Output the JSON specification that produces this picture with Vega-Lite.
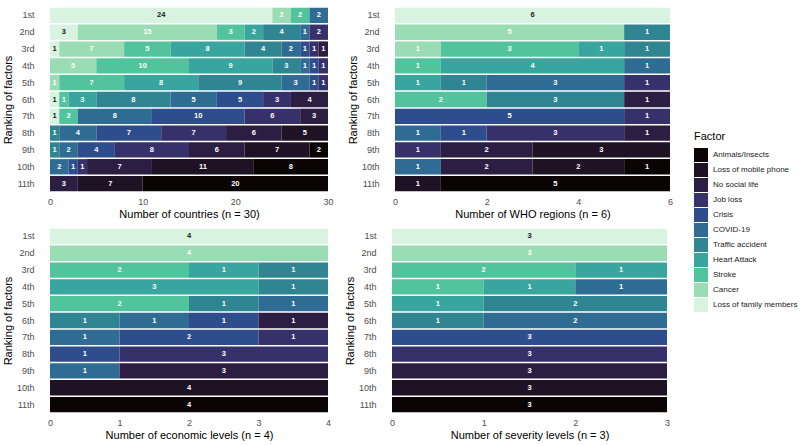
{
  "$schema": "https://vega.github.io/schema/vega-lite/v6.json",
  "padding": {"top": 7, "left": 2, "right": 5, "bottom": 5},
  "config": {
    "font": "Liberation Sans",
    "view": {"stroke": null},
    "axis": {"ticks": false, "domain": false, "grid": false, "labelColor": "#4d4d4d", "labelFontSize": 9, "titleFontSize": 11, "titleFontWeight": "normal", "titleColor": "#000000"},
    "axisX": {"labelPadding": 5, "titlePadding": 2, "labelFlush": false, "format": "d"},
    "axisY": {"labelPadding": 16, "titlePadding": 3},
    "legend": {"orient": "none", "legendX": 644, "legendY": 124, "padding": 0, "titleFontSize": 11, "titleFontWeight": "normal", "titleColor": "#000000", "titlePadding": 6, "labelFontSize": 8, "labelColor": "#1a1a1a", "symbolType": "square", "symbolSize": 196, "symbolStrokeWidth": 0, "symbolOpacity": 1, "rowPadding": 1, "labelOffset": 5, "labelLimit": 200}
  },
  "data": {"values": [
    {"g":"c","r":"1st","f":"Loss of family members","n":24},
    {"g":"c","r":"1st","f":"Cancer","n":2},
    {"g":"c","r":"1st","f":"Stroke","n":2},
    {"g":"c","r":"1st","f":"COVID-19","n":2},
    {"g":"c","r":"2nd","f":"Loss of family members","n":3},
    {"g":"c","r":"2nd","f":"Cancer","n":15},
    {"g":"c","r":"2nd","f":"Stroke","n":3},
    {"g":"c","r":"2nd","f":"Heart Attack","n":2},
    {"g":"c","r":"2nd","f":"Traffic accident","n":4},
    {"g":"c","r":"2nd","f":"COVID-19","n":1},
    {"g":"c","r":"2nd","f":"Job loss","n":2},
    {"g":"c","r":"3rd","f":"Loss of family members","n":1},
    {"g":"c","r":"3rd","f":"Cancer","n":7},
    {"g":"c","r":"3rd","f":"Stroke","n":5},
    {"g":"c","r":"3rd","f":"Heart Attack","n":8},
    {"g":"c","r":"3rd","f":"Traffic accident","n":4},
    {"g":"c","r":"3rd","f":"COVID-19","n":2},
    {"g":"c","r":"3rd","f":"Crisis","n":1},
    {"g":"c","r":"3rd","f":"Job loss","n":1},
    {"g":"c","r":"3rd","f":"No social life","n":1},
    {"g":"c","r":"4th","f":"Cancer","n":5},
    {"g":"c","r":"4th","f":"Stroke","n":10},
    {"g":"c","r":"4th","f":"Heart Attack","n":9},
    {"g":"c","r":"4th","f":"Traffic accident","n":3},
    {"g":"c","r":"4th","f":"COVID-19","n":1},
    {"g":"c","r":"4th","f":"Crisis","n":1},
    {"g":"c","r":"4th","f":"Job loss","n":1},
    {"g":"c","r":"5th","f":"Cancer","n":1},
    {"g":"c","r":"5th","f":"Stroke","n":7},
    {"g":"c","r":"5th","f":"Heart Attack","n":8},
    {"g":"c","r":"5th","f":"Traffic accident","n":9},
    {"g":"c","r":"5th","f":"COVID-19","n":3},
    {"g":"c","r":"5th","f":"Crisis","n":1},
    {"g":"c","r":"5th","f":"Job loss","n":1},
    {"g":"c","r":"6th","f":"Loss of family members","n":1},
    {"g":"c","r":"6th","f":"Stroke","n":1},
    {"g":"c","r":"6th","f":"Heart Attack","n":3},
    {"g":"c","r":"6th","f":"Traffic accident","n":8},
    {"g":"c","r":"6th","f":"COVID-19","n":5},
    {"g":"c","r":"6th","f":"Crisis","n":5},
    {"g":"c","r":"6th","f":"Job loss","n":3},
    {"g":"c","r":"6th","f":"No social life","n":4},
    {"g":"c","r":"7th","f":"Loss of family members","n":1},
    {"g":"c","r":"7th","f":"Stroke","n":2},
    {"g":"c","r":"7th","f":"COVID-19","n":8},
    {"g":"c","r":"7th","f":"Crisis","n":10},
    {"g":"c","r":"7th","f":"Job loss","n":6},
    {"g":"c","r":"7th","f":"No social life","n":3},
    {"g":"c","r":"8th","f":"Traffic accident","n":1},
    {"g":"c","r":"8th","f":"COVID-19","n":4},
    {"g":"c","r":"8th","f":"Crisis","n":7},
    {"g":"c","r":"8th","f":"Job loss","n":7},
    {"g":"c","r":"8th","f":"No social life","n":6},
    {"g":"c","r":"8th","f":"Loss of mobile phone","n":5},
    {"g":"c","r":"9th","f":"Traffic accident","n":1},
    {"g":"c","r":"9th","f":"COVID-19","n":2},
    {"g":"c","r":"9th","f":"Crisis","n":4},
    {"g":"c","r":"9th","f":"Job loss","n":8},
    {"g":"c","r":"9th","f":"No social life","n":6},
    {"g":"c","r":"9th","f":"Loss of mobile phone","n":7},
    {"g":"c","r":"9th","f":"Animals/Insects","n":2},
    {"g":"c","r":"10th","f":"COVID-19","n":2},
    {"g":"c","r":"10th","f":"Crisis","n":1},
    {"g":"c","r":"10th","f":"Job loss","n":1},
    {"g":"c","r":"10th","f":"No social life","n":7},
    {"g":"c","r":"10th","f":"Loss of mobile phone","n":11},
    {"g":"c","r":"10th","f":"Animals/Insects","n":8},
    {"g":"c","r":"11th","f":"No social life","n":3},
    {"g":"c","r":"11th","f":"Loss of mobile phone","n":7},
    {"g":"c","r":"11th","f":"Animals/Insects","n":20},

    {"g":"w","r":"1st","f":"Loss of family members","n":6},
    {"g":"w","r":"2nd","f":"Cancer","n":5},
    {"g":"w","r":"2nd","f":"Traffic accident","n":1},
    {"g":"w","r":"3rd","f":"Cancer","n":1},
    {"g":"w","r":"3rd","f":"Stroke","n":3},
    {"g":"w","r":"3rd","f":"Heart Attack","n":1},
    {"g":"w","r":"3rd","f":"Traffic accident","n":1},
    {"g":"w","r":"4th","f":"Stroke","n":1},
    {"g":"w","r":"4th","f":"Heart Attack","n":4},
    {"g":"w","r":"4th","f":"COVID-19","n":1},
    {"g":"w","r":"5th","f":"Heart Attack","n":1},
    {"g":"w","r":"5th","f":"Traffic accident","n":1},
    {"g":"w","r":"5th","f":"COVID-19","n":3},
    {"g":"w","r":"5th","f":"Job loss","n":1},
    {"g":"w","r":"6th","f":"Stroke","n":2},
    {"g":"w","r":"6th","f":"Traffic accident","n":3},
    {"g":"w","r":"6th","f":"No social life","n":1},
    {"g":"w","r":"7th","f":"Crisis","n":5},
    {"g":"w","r":"7th","f":"Job loss","n":1},
    {"g":"w","r":"8th","f":"COVID-19","n":1},
    {"g":"w","r":"8th","f":"Crisis","n":1},
    {"g":"w","r":"8th","f":"Job loss","n":3},
    {"g":"w","r":"8th","f":"No social life","n":1},
    {"g":"w","r":"9th","f":"Job loss","n":1},
    {"g":"w","r":"9th","f":"No social life","n":2},
    {"g":"w","r":"9th","f":"Loss of mobile phone","n":3},
    {"g":"w","r":"10th","f":"COVID-19","n":1},
    {"g":"w","r":"10th","f":"No social life","n":2},
    {"g":"w","r":"10th","f":"Loss of mobile phone","n":2},
    {"g":"w","r":"10th","f":"Animals/Insects","n":1},
    {"g":"w","r":"11th","f":"Loss of mobile phone","n":1},
    {"g":"w","r":"11th","f":"Animals/Insects","n":5},

    {"g":"e","r":"1st","f":"Loss of family members","n":4},
    {"g":"e","r":"2nd","f":"Cancer","n":4},
    {"g":"e","r":"3rd","f":"Stroke","n":2},
    {"g":"e","r":"3rd","f":"Heart Attack","n":1},
    {"g":"e","r":"3rd","f":"Traffic accident","n":1},
    {"g":"e","r":"4th","f":"Heart Attack","n":3},
    {"g":"e","r":"4th","f":"Traffic accident","n":1},
    {"g":"e","r":"5th","f":"Stroke","n":2},
    {"g":"e","r":"5th","f":"Traffic accident","n":1},
    {"g":"e","r":"5th","f":"COVID-19","n":1},
    {"g":"e","r":"6th","f":"Traffic accident","n":1},
    {"g":"e","r":"6th","f":"COVID-19","n":1},
    {"g":"e","r":"6th","f":"Crisis","n":1},
    {"g":"e","r":"6th","f":"No social life","n":1},
    {"g":"e","r":"7th","f":"COVID-19","n":1},
    {"g":"e","r":"7th","f":"Crisis","n":2},
    {"g":"e","r":"7th","f":"Job loss","n":1},
    {"g":"e","r":"8th","f":"Crisis","n":1},
    {"g":"e","r":"8th","f":"Job loss","n":3},
    {"g":"e","r":"9th","f":"COVID-19","n":1},
    {"g":"e","r":"9th","f":"No social life","n":3},
    {"g":"e","r":"10th","f":"Loss of mobile phone","n":4},
    {"g":"e","r":"11th","f":"Animals/Insects","n":4},

    {"g":"s","r":"1st","f":"Loss of family members","n":3},
    {"g":"s","r":"2nd","f":"Cancer","n":3},
    {"g":"s","r":"3rd","f":"Stroke","n":2},
    {"g":"s","r":"3rd","f":"Heart Attack","n":1},
    {"g":"s","r":"4th","f":"Stroke","n":1},
    {"g":"s","r":"4th","f":"Heart Attack","n":1},
    {"g":"s","r":"4th","f":"COVID-19","n":1},
    {"g":"s","r":"5th","f":"Heart Attack","n":1},
    {"g":"s","r":"5th","f":"Traffic accident","n":2},
    {"g":"s","r":"6th","f":"Traffic accident","n":1},
    {"g":"s","r":"6th","f":"COVID-19","n":2},
    {"g":"s","r":"7th","f":"Crisis","n":3},
    {"g":"s","r":"8th","f":"Job loss","n":3},
    {"g":"s","r":"9th","f":"No social life","n":3},
    {"g":"s","r":"10th","f":"Loss of mobile phone","n":3},
    {"g":"s","r":"11th","f":"Animals/Insects","n":3}
  ]},
  "transform": [
    {"calculate": "indexof(['Loss of family members','Cancer','Stroke','Heart Attack','Traffic accident','COVID-19','Crisis','Job loss','No social life','Loss of mobile phone','Animals/Insects'], datum.f)", "as": "o"},
    {"stack": "n", "groupby": ["g", "r"], "sort": [{"field": "o", "order": "ascending"}], "as": ["x0", "x1"]},
    {"calculate": "(datum.x0 + datum.x1) / 2", "as": "xm"}
  ],
  "resolve": {"scale": {"x": "independent", "y": "independent"}},
  "spacing": 9,
  "vconcat": [
    {"spacing": 13, "hconcat": [
      {
        "width": 278, "height": 185,
        "transform": [{"filter": "datum.g == 'c'"}],
        "encoding": {
          "y": {"field": "r", "type": "nominal", "scale": {"domain": ["1st","2nd","3rd","4th","5th","6th","7th","8th","9th","10th","11th"], "paddingInner": 0.09, "paddingOuter": 0.045}, "axis": {"title": "Ranking of factors"}}
        },
        "layer": [
          {"mark": {"type": "bar"}, "encoding": {
            "x": {"field": "x0", "type": "quantitative", "scale": {"domain": [0, 30], "nice": false}, "axis": {"values": [0, 10, 20, 30], "title": "Number of countries (n = 30)"}},
            "x2": {"field": "x1"},
            "color": {"field": "f", "type": "nominal", "title": "Factor", "scale": {"domain": ["Animals/Insects","Loss of mobile phone","No social life","Job loss","Crisis","COVID-19","Traffic accident","Heart Attack","Stroke","Cancer","Loss of family members"], "range": ["#0b0405","#1e1224","#2b1e42","#36306b","#2e4d8c","#2f6c93","#2f8592","#38a59e","#52c49d","#9adcb3","#d8f3e0"]}}
          }},
          {"mark": {"type": "text", "fontSize": 7.5, "fontWeight": "bold"}, "encoding": {
            "x": {"field": "xm", "type": "quantitative"},
            "text": {"field": "n", "type": "quantitative"},
            "color": {"condition": {"test": "datum.f == 'Loss of family members'", "value": "#1a1a1a"}, "value": "#ffffff"}
          }}
        ]
      },
      {
        "width": 275, "height": 185,
        "transform": [{"filter": "datum.g == 'w'"}],
        "encoding": {
          "y": {"field": "r", "type": "nominal", "scale": {"domain": ["1st","2nd","3rd","4th","5th","6th","7th","8th","9th","10th","11th"], "paddingInner": 0.09, "paddingOuter": 0.045}, "axis": {"title": "Ranking of factors"}}
        },
        "layer": [
          {"mark": {"type": "bar"}, "encoding": {
            "x": {"field": "x0", "type": "quantitative", "scale": {"domain": [0, 6], "nice": false}, "axis": {"values": [0, 2, 4, 6], "title": "Number of WHO regions (n = 6)"}},
            "x2": {"field": "x1"},
            "color": {"field": "f", "type": "nominal", "title": "Factor"}
          }},
          {"mark": {"type": "text", "fontSize": 7.5, "fontWeight": "bold"}, "encoding": {
            "x": {"field": "xm", "type": "quantitative"},
            "text": {"field": "n", "type": "quantitative"},
            "color": {"condition": {"test": "datum.f == 'Loss of family members'", "value": "#1a1a1a"}, "value": "#ffffff"}
          }}
        ]
      }
    ]},
    {"spacing": 13, "hconcat": [
      {
        "width": 278, "height": 185,
        "transform": [{"filter": "datum.g == 'e'"}],
        "encoding": {
          "y": {"field": "r", "type": "nominal", "scale": {"domain": ["1st","2nd","3rd","4th","5th","6th","7th","8th","9th","10th","11th"], "paddingInner": 0.09, "paddingOuter": 0.045}, "axis": {"title": "Ranking of factors"}}
        },
        "layer": [
          {"mark": {"type": "bar"}, "encoding": {
            "x": {"field": "x0", "type": "quantitative", "scale": {"domain": [0, 4], "nice": false}, "axis": {"values": [0, 1, 2, 3, 4], "title": "Number of economic levels (n = 4)"}},
            "x2": {"field": "x1"},
            "color": {"field": "f", "type": "nominal", "title": "Factor"}
          }},
          {"mark": {"type": "text", "fontSize": 7.5, "fontWeight": "bold"}, "encoding": {
            "x": {"field": "xm", "type": "quantitative"},
            "text": {"field": "n", "type": "quantitative"},
            "color": {"condition": {"test": "datum.f == 'Loss of family members'", "value": "#1a1a1a"}, "value": "#ffffff"}
          }}
        ]
      },
      {
        "width": 275, "height": 185,
        "transform": [{"filter": "datum.g == 's'"}],
        "encoding": {
          "y": {"field": "r", "type": "nominal", "scale": {"domain": ["1st","2nd","3rd","4th","5th","6th","7th","8th","9th","10th","11th"], "paddingInner": 0.09, "paddingOuter": 0.045}, "axis": {"title": "Ranking of factors"}}
        },
        "layer": [
          {"mark": {"type": "bar"}, "encoding": {
            "x": {"field": "x0", "type": "quantitative", "scale": {"domain": [0, 3], "nice": false}, "axis": {"values": [0, 1, 2, 3], "title": "Number of severity levels (n = 3)"}},
            "x2": {"field": "x1"},
            "color": {"field": "f", "type": "nominal", "title": "Factor"}
          }},
          {"mark": {"type": "text", "fontSize": 7.5, "fontWeight": "bold"}, "encoding": {
            "x": {"field": "xm", "type": "quantitative"},
            "text": {"field": "n", "type": "quantitative"},
            "color": {"condition": {"test": "datum.f == 'Loss of family members'", "value": "#1a1a1a"}, "value": "#ffffff"}
          }}
        ]
      }
    ]}
  ]
}
